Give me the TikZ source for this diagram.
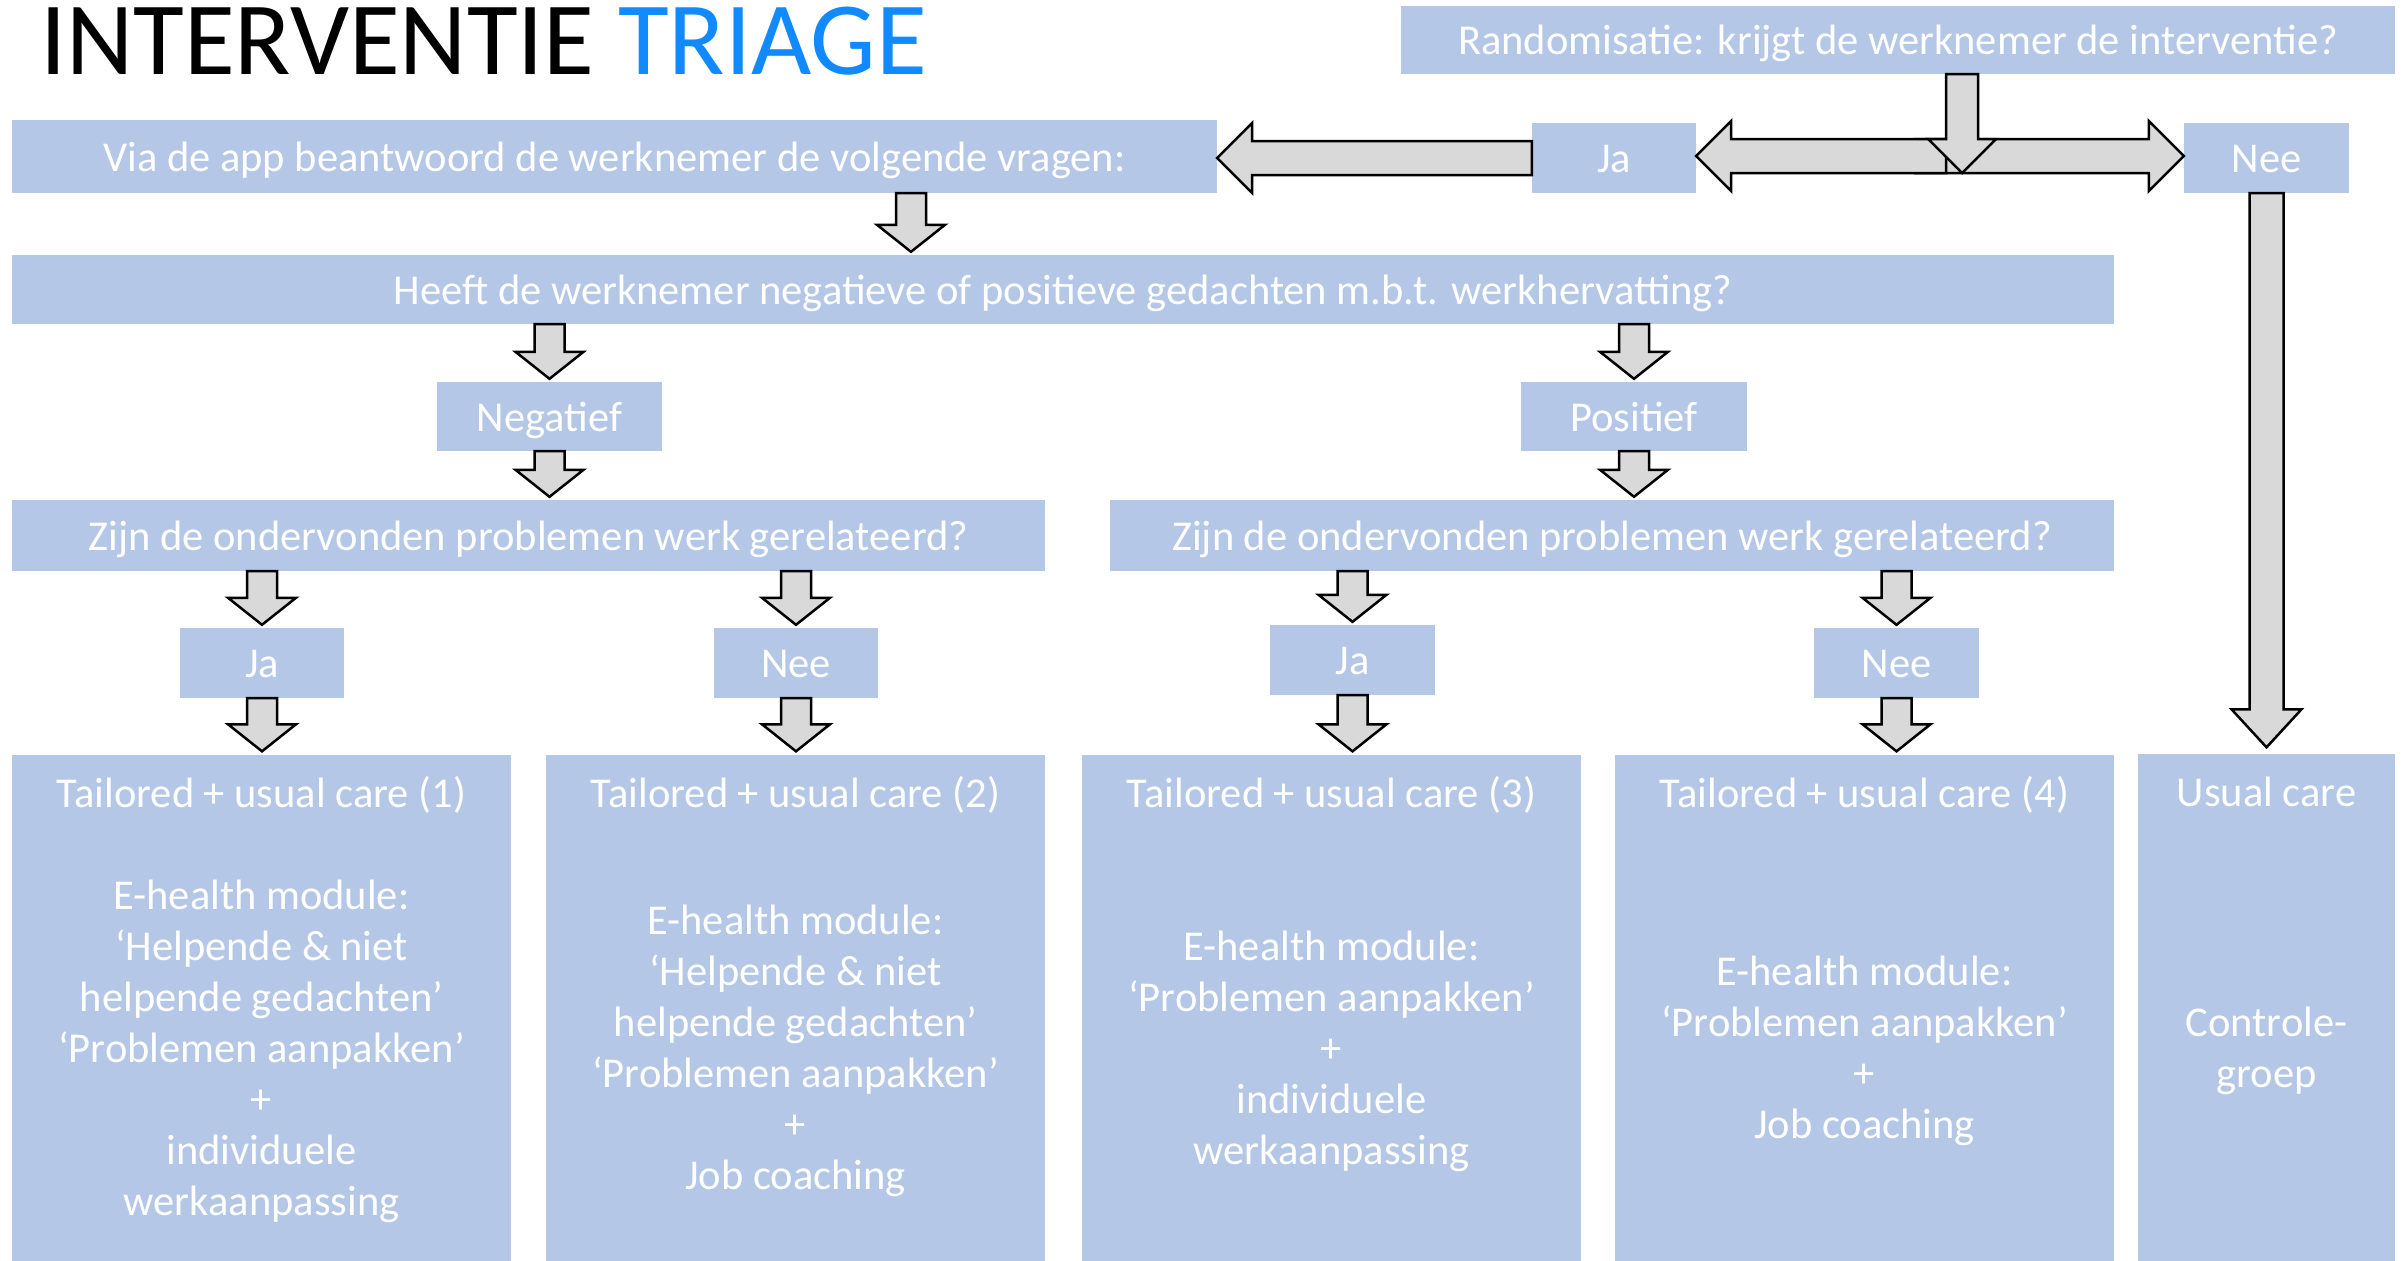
\documentclass[tikz,border=0pt]{standalone}
\usepackage{fontspec}
\setmainfont{Carlito}
\usetikzlibrary{calc}
\definecolor{boxblue}{HTML}{B4C7E7}
\definecolor{arrowgray}{HTML}{D9D9D9}
\definecolor{triageblue}{RGB}{17,138,255}
\newcommand{\smalldown}[3]{%
  \draw[block_arrow] let \p1=(#1.south), \p2=(#2.north), \p3=(#3) in
    (\x3-15pt,\y1) -- (\x3+15pt,\y1) -- (\x3+15pt,\y2+30pt) -- (\x3+34pt,\y2+30pt)
    -- (\x3,\y2+3pt) -- (\x3-34pt,\y2+30pt) -- (\x3-15pt,\y2+30pt) -- cycle;}
\begin{document}
\begin{tikzpicture}[
  x=1pt, y=-1pt,
  blue_box/.style={rectangle, fill=boxblue, text=white, inner sep=0pt, font=\fontsize{42.5}{51}\selectfont},
  line_box/.style={blue_box, text height=37pt, text depth=8pt},
  answer_box/.style={line_box, minimum width=165pt, minimum height=70pt},
  col_head/.style={line_box, minimum width=499pt, minimum height=77pt},
  col_body/.style={blue_box, minimum width=499pt, minimum height=442pt, align=center},
  block_arrow/.style={draw=black, fill=arrowgray, line width=2.5pt, line join=miter},
]
\useasboundingbox (0,0) rectangle (2407,1261);
\draw (40,74) node (title) [anchor=base west, inner sep=0pt, font=\fontsize{104}{125}\selectfont] {INTERVENTIE \textcolor{triageblue}{TRIAGE}};
\draw (1898,40) node (rand) [line_box, minimum width=994pt, minimum height=68pt] {Randomisatie: krijgt de werknemer de interventie?};
\draw (614.5,156.5) node (via) [line_box, minimum width=1205pt, minimum height=73pt] {Via de app beantwoord de werknemer de volgende vragen:};
\draw (1614,158) node (jatop) [answer_box, minimum width=164pt] {Ja};
\draw (2266.5,158) node (neetop) [answer_box] {Nee};
\draw (1063,289.5) node (heeft) [line_box, minimum width=2102pt, minimum height=69pt] {Heeft de werknemer negatieve of positieve gedachten m.b.t. werkhervatting?};
\draw (549.5,416.5) node (neg) [line_box, minimum width=225pt, minimum height=69pt] {Negatief};
\draw (1634,416.5) node (pos) [line_box, minimum width=226pt, minimum height=69pt] {Positief};
\draw (528.5,535.5) node (zijnl) [line_box, minimum width=1033pt, minimum height=71pt] {Zijn de ondervonden problemen werk gerelateerd?};
\draw (1612,535.5) node (zijnr) [line_box, minimum width=1004pt, minimum height=71pt] {Zijn de ondervonden problemen werk gerelateerd?};
\draw (262,663) node (ja1) [answer_box, minimum width=164pt] {Ja};
\draw (796,663) node (nee1) [answer_box, minimum width=164pt] {Nee};
\draw (1352.5,660) node (ja2) [answer_box] {Ja};
\draw (1896.5,663) node (nee2) [answer_box] {Nee};
\draw (261.5,793) node (head1) [col_head] {Tailored + usual care (1)};
\draw (261.5,1051) node (body1) [col_body] {E-health module:\\‘Helpende \& niet\\helpende gedachten’\\‘Problemen aanpakken’\\+\\individuele\\werkaanpassing};
\draw (795.5,793) node (head2) [col_head] {Tailored + usual care (2)};
\draw (795.5,1051) node (body2) [col_body] {E-health module:\\‘Helpende \& niet\\helpende gedachten’\\‘Problemen aanpakken’\\+\\Job coaching};
\draw (1331.5,793) node (head3) [col_head] {Tailored + usual care (3)};
\draw (1331.5,1051) node (body3) [col_body] {E-health module:\\‘Problemen aanpakken’\\+\\individuele\\werkaanpassing};
\draw (1864.5,793) node (head4) [col_head] {Tailored + usual care (4)};
\draw (1864.5,1051) node (body4) [col_body] {E-health module:\\‘Problemen aanpakken’\\+\\Job coaching};
\draw (2266.5,792) node (head5) [col_head, minimum width=257pt] {Usual care};
\draw (2266.5,1051) node (body5) [col_body, minimum width=257pt] {Controle-\\groep};
\coordinate (split) at (1962,156);
\draw[block_arrow] let \p1=(split), \p2=(neetop.west) in (\x1-47pt,\y1+17pt) -- (\x2-35pt,\y1+17pt) -- (\x2-35pt,\y1+35pt) -- (\x2,\y1) -- (\x2-35pt,\y1-35pt) -- (\x2-35pt,\y1-17pt) -- (\x1-47pt,\y1-17pt) -- cycle;
\draw[block_arrow] let \p1=(split), \p2=(jatop.east) in (\x1-16pt,\y1+17pt) -- (\x2+35pt,\y1+17pt) -- (\x2+35pt,\y1+35pt) -- (\x2,\y1) -- (\x2+35pt,\y1-35pt) -- (\x2+35pt,\y1-17pt) -- (\x1-16pt,\y1-17pt) -- cycle;
\draw[block_arrow] let \p1=(rand.south), \p2=(split) in (\x2-16pt,\y1) -- (\x2+16pt,\y1) -- (\x2+16pt,\y2+17pt) -- (\x2+34pt,\y2+17pt) -- (\x2,\y2-17pt) -- (\x2-34pt,\y2+17pt) -- (\x2-16pt,\y2+17pt) -- cycle;
\draw[block_arrow] let \p1=(jatop.west), \p2=(via.east) in (\x1,\y1+17pt) -- (\x2+35pt,\y1+17pt) -- (\x2+35pt,\y1+35pt) -- (\x2,\y1) -- (\x2+35pt,\y1-35pt) -- (\x2+35pt,\y1-17pt) -- (\x1,\y1-17pt) -- cycle;
\draw[block_arrow] let \p1=(neetop.south), \p2=(head5.north) in (\x1-17pt,\y1) -- (\x1+17pt,\y1) -- (\x1+17pt,\y2+44pt) -- (\x1+35pt,\y2+44pt) -- (\x1,\y2+6pt) -- (\x1-35pt,\y2+44pt) -- (\x1-17pt,\y2+44pt) -- cycle;
\smalldown{via}{heeft}{911,0}
\smalldown{heeft}{neg}{neg}
\smalldown{heeft}{pos}{pos}
\smalldown{neg}{zijnl}{neg}
\smalldown{pos}{zijnr}{pos}
\smalldown{zijnl}{ja1}{ja1}
\smalldown{zijnl}{nee1}{nee1}
\smalldown{zijnr}{ja2}{ja2}
\smalldown{zijnr}{nee2}{nee2}
\smalldown{ja1}{head1}{ja1}
\smalldown{nee1}{head2}{nee1}
\smalldown{ja2}{head3}{ja2}
\smalldown{nee2}{head4}{nee2}
\end{tikzpicture}
\end{document}
